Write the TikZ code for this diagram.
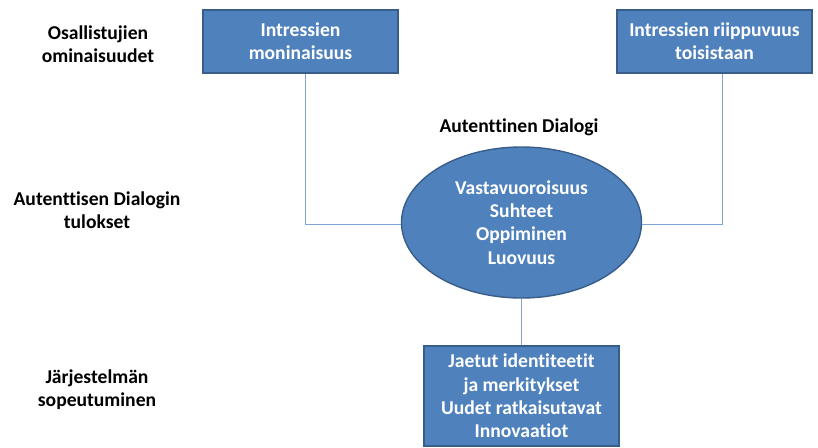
\documentclass[tikz,border=0pt]{standalone}
\usepackage{fontspec}
\setmainfont[Ligatures=NoCommon]{Carlito}
\usetikzlibrary{shapes.geometric}
\definecolor{boxfill}{HTML}{4F81BD}
\definecolor{boxedge}{HTML}{385D8A}
\definecolor{linkcol}{HTML}{7EA6D8}
\begin{document}
\begin{tikzpicture}[x=1pt,y=-1pt,
  every node/.style={font=\fontsize{19.6}{23.3}\selectfont\bfseries, align=center, inner sep=0pt},
  bluebox/.style={draw=boxedge, line width=1.4pt, fill=boxfill, text=white, minimum width=195pt},
  blueell/.style={ellipse, draw=boxedge, line width=1.4pt, fill=boxfill, text=white, minimum width=240pt, minimum height=151pt},
  link/.style={draw=linkcol, line width=1pt}]
\useasboundingbox (0,0) rectangle (818,447);
\node (lab1) at (98,44) {Osallistujien\\ominaisuudet};
\node (lab2) at (97,210) {Autenttisen Dialogin\\tulokset};
\node (lab3) at (97,390) {Järjestelmän\\sopeutuminen};
\node (ttl) at (519,127) {Autenttinen Dialogi};
\node[bluebox, minimum height=63pt] (tl) at (300.5,41.5) {Intressien\\moninaisuus};
\node[bluebox, minimum height=63pt] (tr) at (714.5,41.5) {Intressien riippuvuus\\toisistaan};
\node[blueell] (el) at (521.5,222.5) {Vastavuoroisuus\\Suhteet\\Oppiminen\\Luovuus};
\node[bluebox, minimum height=100pt] (bt) at (521.5,396) {Jaetut identiteetit\\ja merkitykset\\Uudet ratkaisutavat\\Innovaatiot};
\coordinate (tlx) at ([xshift=4.5pt]tl.south);
\coordinate (trx) at ([xshift=7.5pt]tr.south);
\draw[link] (tlx) |- ([yshift=-2pt]el.west);
\draw[link] (trx) |- ([yshift=-2pt]el.east);
\draw[link] (el.south) -- (bt.north);
\end{tikzpicture}
\end{document}
